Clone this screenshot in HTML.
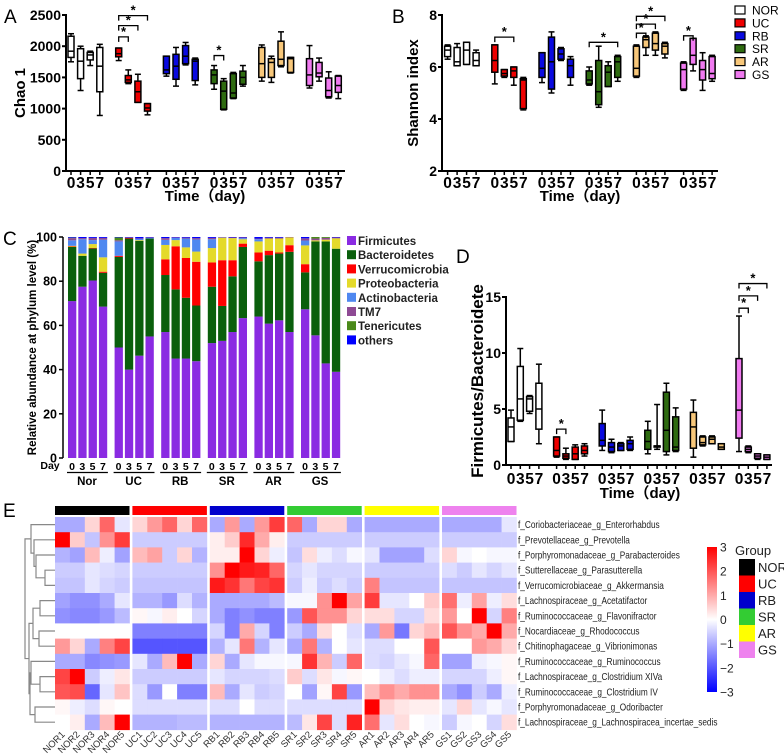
<!DOCTYPE html>
<html><head><meta charset="utf-8">
<style>
html,body{margin:0;padding:0;background:#fff;}
svg{display:block;font-family:"Liberation Sans","Noto Sans CJK SC",sans-serif;}
.b{font-weight:bold;}
</style></head>
<body>
<svg id="fig" width="784" height="755" viewBox="0 0 784 755" xmlns="http://www.w3.org/2000/svg">
<text x="4" y="23" font-size="19">A</text>
<text x="392" y="23" font-size="19">B</text>
<text x="3" y="245" font-size="19">C</text>
<text x="456" y="263" font-size="19">D</text>
<text x="3" y="517" font-size="19">E</text>
<g id="gA"></g>
<g id="gB"></g>
<g id="gC"></g>
<g id="gD"></g>
<g id="gE"></g>
</svg>
<script>
// ---------- shared data ----------
const groups = ["NOR","UC","RB","SR","AR","GS"];
const days = ["0","3","5","7"];
const groupColors = ["#ffffff","#ee0000","#0a0ae0","#2e6b10","#f7c77a","#f07af0"];

// Panel A: Chao1 [lo, q1, median, q3, hi] per group/day
const chaoTicks = [0,500,1000,1500,2000,2500];
const chaoStats = [
 [[1750,1820,1920,2160,2200],[1290,1480,1760,1960,2000],[1690,1780,1860,1900,1920],[890,1270,1680,1980,2030]],
 [[1770,1830,1880,1970,1970],[1400,1420,1460,1530,1620],[1100,1100,1270,1440,1550],[900,960,1010,1080,1080]],
 [[1520,1560,1620,1840,1840],[1360,1470,1680,1870,1980],[1700,1720,1840,2010,2060],[1380,1450,1760,1790,1810]],
 [[1310,1400,1540,1620,1690],[980,990,1280,1440,1480],[1160,1170,1250,1560,1580],[1360,1390,1500,1600,1690]],
 [[1440,1500,1720,1980,2020],[1420,1500,1740,1800,1840],[1670,1690,1790,2080,2230],[1570,1580,1800,1820,1820]],
 [[1330,1370,1540,1800,2010],[1440,1510,1570,1740,1810],[1170,1190,1290,1490,1590],[1160,1260,1370,1520,1530]]
];
const chaoSig = [[1,0,1,2150],[1,0,2,2330],[1,0,3,2490],[3,0,1,1850]];

// Panel B: Shannon
const shanTicks = [2,4,6,8];
const shanStats = [
 [[6.3,6.4,6.65,6.8,6.85],[6.05,6.05,6.2,6.75,6.9],[6.1,6.1,6.65,6.95,6.95],[6.05,6.05,6.25,6.55,6.65]],
 [[5.35,5.8,6.25,6.85,6.85],[5.6,5.65,5.75,5.9,5.9],[5.3,5.6,5.85,6.0,6.0],[4.35,4.4,5.5,5.55,5.6]],
 [[5.4,5.6,5.95,6.55,6.55],[5.0,5.15,6.2,7.15,7.35],[6.25,6.3,6.5,6.7,6.75],[5.3,5.6,6.05,6.3,6.4]],
 [[5.3,5.35,5.5,5.85,6.0],[4.45,4.55,5.05,6.25,6.8],[5.25,5.25,5.8,6.05,6.2],[5.45,5.6,6.2,6.4,6.45]],
 [[5.6,5.65,5.95,6.8,6.85],[6.45,6.75,7.05,7.15,7.2],[6.45,6.65,6.9,7.3,7.35],[6.35,6.5,6.8,6.9,6.95]],
 [[5.1,5.15,5.9,6.15,6.2],[5.85,6.1,6.45,7.1,7.1],[5.1,5.5,5.9,6.25,6.55],[5.45,5.55,5.75,6.4,6.45]]
];
const shanSig = [[1,0,2,7.15],[3,0,3,6.95],[4,0,1,7.3],[4,0,2,7.65],[4,0,3,7.95],[5,0,1,7.2]];

// Panel C: phylum relative abundance
const phyla = ["Firmicutes","Bacteroidetes","Verrucomicrobia","Proteobacteria","Actinobacteria","TM7","Tenericutes","others"];
const phylaColors = ["#8a2be2","#0a5f0c","#ff0000","#e4da2a","#4f88f0","#8e4a94","#4a8a1a","#0000ff"];
const barLabels = ["Nor","UC","RB","SR","AR","GS"];
const cTicks = [0,20,40,60,80,100];
const abund = [
 [71,24.5,0.2,0.3,2.5,1,0.2,0.3],[77.5,14,0,1,6.5,0.5,0,0.5],[80.3,14.5,0.2,1.8,1.8,1,0,0.4],[68.5,15.3,0.5,6.5,8,0.8,0,0.4],
 [50,41,0.5,0,6.5,0.5,1.3,0.2],[40,59.3,0.3,0,0,0.2,0,0.2],[46.3,52,0,0.3,0.5,0.3,0,0.6],[55,44.3,0,0,0.3,0.2,0,0.2],
 [57,25.8,7.1,6.5,2.3,0.8,0,0.5],[45,31.3,19.5,2.8,1,0.2,0,0.2],[45,27.5,18,4.8,4,0.4,0,0.3],[43.8,25.2,19.8,4.6,5.5,0.6,0,0.5],
 [52,25.5,11,6.5,4,0.6,0,0.4],[53,15.8,20.7,10.2,0,0.2,0,0.1],[57,25.2,7.3,10,0,0.3,0,0.2],[63.3,32.2,1.5,2,0.5,0.3,0,0.2],
 [64,25,4,5,1,0.3,0,0.7],[60.8,31,2,5.5,0,0.4,0,0.3],[62.3,30.2,0.5,6.3,0,0.4,0,0.3],[57,36.3,3,3.5,0,0.2,0,0],
 [67.3,16.7,3.7,8.5,2.2,1,0,0.6],[55.5,42.5,0,0.5,0,0.8,0.7,0],[42.8,55.2,0,0.8,0,0.8,0.4,0],[39,55.7,0,4.7,0,0.4,0,0.2]
];

// Panel D: Firmicutes/Bacteroidetes
const fbTicks = [0,5,10,15];
const fbStats = [
 [[2.1,2.1,3.4,4.2,4.9],[3.9,4.0,5.9,8.8,10.4],[4.6,4.8,5.9,6.1,6.2],[1.9,3.2,5.0,7.3,9.0]],
 [[0.7,0.8,1.3,2.5,2.5],[0.5,0.6,0.8,1.0,1.5],[0.5,0.5,1.0,1.6,1.8],[0.8,1.0,1.3,1.7,1.9]],
 [[1.3,1.7,2.2,3.7,4.9],[1.1,1.2,1.6,2.0,2.3],[1.3,1.3,1.7,1.9,2.0],[1.3,1.4,1.9,2.2,2.5]],
 [[1.0,1.4,2.1,3.1,3.9],[1.4,1.6,1.7,1.7,5.4],[0.9,1.2,3.1,6.5,7.3],[1.2,1.3,1.6,4.3,5.1]],
 [[0.7,1.5,3.4,4.7,5.8],[1.7,1.8,2.0,2.5,2.6],[1.9,1.9,2.3,2.5,2.6],[1.4,1.4,1.6,1.9,1.9]],
 [[1.2,2.4,4.9,9.5,13.3],[1.1,1.2,1.4,1.6,1.7],[0.5,0.6,0.8,1.0,1.0],[0.5,0.5,0.7,0.9,0.9]]
];
const fbSig = [[1,0,1,3.2],[5,0,1,14.0],[5,0,2,15.1],[5,0,3,16.2]];

// Panel E: heatmap z-scores
const taxa = ["f_Coriobacteriaceae_g_Enterorhabdus","f_Prevotellaceae_g_Prevotella","f_Porphyromonadaceae_g_Parabacteroides","f_Sutterellaceae_g_Parasutterella","f_Verrucomicrobiaceae_g_Akkermansia","f_Lachnospiraceae_g_Acetatifactor","f_Ruminococcaceae_g_Flavonifractor","f_Nocardiaceae_g_Rhodococcus","f_Chitinophagaceae_g_Vibrionimonas","f_Ruminococcaceae_g_Ruminococcus","f_Lachnospiraceae_g_Clostridium XIVa","f_Ruminococcaceae_g_Clostridium IV","f_Porphyromonadaceae_g_Odoribacter","f_Lachnospiraceae_g_Lachnospiracea_incertae_sedis"];
const samples = ["NOR1","NOR2","NOR3","NOR4","NOR5","UC1","UC2","UC3","UC4","UC5","RB1","RB2","RB3","RB4","RB5","SR1","SR2","SR3","SR4","SR5","AR1","AR2","AR3","AR4","AR5","GS1","GS2","GS3","GS4","GS5"];
const heatGroupColors = ["#000000","#ff0000","#0000cc","#33cc33","#ffff00","#ee82ee"];
const cbTicks = [3,2,1,0,-1,-2,-3];
const zvals = [
 [-1,-1,0.5,1.8,-0.3, 0.5,1.2,1.8,0.5,1.8, -1,1.2,-1,1.2,2.3, 1.8,-1,0.5,0.5,-1, -1,-1,-1,-1,-1, -1,-1,-1,-1,-0.3],
 [3,0.6,-0.7,1.3,2.3, -0.6,-0.6,-0.6,-0.6,-0.6, 0.2,0.6,2.5,1,0.2, -0.6,-0.6,-0.6,-0.6,-0.6, -0.6,-0.6,-0.6,-0.6,-0.6, -0.6,-0.6,-0.6,-0.6,-0.6],
 [-0.9,-1.1,0.8,-0.2,-1.1, 0.8,1.1,-0.6,0.5,-0.9, 0.2,0.2,3,0.5,-0.2, -0.7,0.4,-0.2,-0.4,-0.1, -0.3,-1.1,-1.1,-1.1,-0.4, 0.5,-0.1,0,-0.1,-0.1],
 [-0.6,-0.6,-0.3,-0.4,-0.5, -0.6,-0.6,-0.6,-0.6,-0.6, 1.3,3,2.7,2.6,1.8, -0.5,-0.3,-0.5,-0.5,-0.5, -0.6,-0.6,-0.6,-0.6,-0.6, -0.4,-0.6,-0.3,-0.5,-0.3],
 [-0.7,-0.7,-0.3,-0.5,-0.6, -0.7,-0.7,-0.7,-0.7,-0.7, 2.7,2.4,1.6,2.2,2.4, -0.6,-0.2,-0.6,-0.4,-0.6, 1.5,-0.7,-0.7,-0.7,-0.7, -0.7,-0.7,-0.7,-0.7,-0.7],
 [-1.1,-1.3,-1.3,-1,-0.3, -0.9,-0.9,-1.2,-0.4,-0.9, -1,-1,-1,-1,-0.8, -0.1,-0.1,1.3,3,1.1, 2.3,-0.3,-0.3,0,0.6, 1.7,-0.2,1.1,-0.2,0.4],
 [-1.3,-1.4,-1.4,-1.2,-0.8, 0.1,-0.1,0.2,0,-0.5, -1,-1.5,-1.3,-1.5,-1.5, -1.2,2,1.3,1.3,0.5, 0.4,0.4,-0.5,-0.5,0.4, 1.2,0,3,-0.5,1.5],
 [0,0,0,0,0, -1.5,-1.5,-1.5,-1.5,-1.5, -0.5,-1.5,1,-0.5,-1.5, -0.6,-1,0.4,0,-0.4, -1,1.2,-1.6,0.5,0.8, 2,1.3,1,3,1],
 [1.2,0.5,-1,1.5,2.2, -2,-2,-2,-2,-2, -0.9,-0.3,1.6,-0.9,-0.3, -1,1.6,-0.9,0,-0.3, -0.4,-0.4,0,0,2, 0,0,1.2,1,0.5],
 [-1,-1,-1.4,-1.3,-1.2, -0.3,-1,0.8,3,-1, 0.5,-1,-0.3,-0.1,-0.1, -0.1,2.4,0.9,-0.6,1.8, -0.4,-0.5,-0.3,-0.1,1.8, -1.1,-1.1,-0.2,-0.1,0.1],
 [2.2,3,-0.6,-0.2,0.3, -0.6,-0.6,-0.6,-0.6,-0.6, -0.3,-0.5,-0.5,-0.5,-0.4, 0.6,-0.4,0.3,-0.1,0.1, 0,-0.2,-0.4,-0.2,-0.2, -0.5,-0.5,-0.5,-0.2,0.1],
 [2,2.1,-1.8,-0.3,0.7, -0.4,-1.2,0,-1.5,-1.5, 0.8,-1,-0.3,-0.6,-0.5, 0,-1.1,0.1,2.2,-1.2, 0.8,1.3,1,1.3,1.3, -1,-1.3,-0.6,-1,-0.2],
 [0.1,-0.2,-0.4,0.1,0, -0.4,-0.4,-0.4,-0.4,-0.4, -0.4,-0.4,0,-0.4,-0.4, -0.4,-0.4,-0.4,-0.4,-0.4, 3,0.5,0.3,0.2,0.2, -0.3,0.5,-0.3,-0.1,-0.3],
 [0,0.2,-1,0.8,3, -0.9,-0.9,-0.9,-0.8,-0.8, -0.9,-0.9,-0.9,-0.9,-0.9, -0.8,0.3,2.2,-0.4,2.6, 1.7,-0.3,0.4,0,-0.1, -0.6,-0.1,0,-0.5,0.4]
];

// ---------- helpers ----------
const NS = "http://www.w3.org/2000/svg";
function mk(parent, tag, attrs, text){
  const e = document.createElementNS(NS, tag);
  for (const k in attrs) e.setAttribute(k, attrs[k]);
  if (text !== undefined) e.textContent = text;
  parent.appendChild(e);
  return e;
}
function line(p,x1,y1,x2,y2,w,c){ return mk(p,"line",{x1:x1,y1:y1,x2:x2,y2:y2,stroke:c||"#000","stroke-width":w||1.5}); }

function boxPanel(g, cfg){
  const {ax, y0, y1, vmin, vmax, ticks, stats, sig, xOf, xEnd, title, titleX, bw, cap} = cfg;
  const ys = v => y0 - (v - vmin)/(vmax - vmin)*(y0 - y1);
  const yAxis = line(g, ax, y1-1, ax, y0+1, 2);
  
  
  const xAxis = line(g, ax, y0, xEnd, y0, 2);
  
  
  ticks.forEach(t=>{
    line(g, ax-4, ys(t), ax, ys(t), 2);
    const tl = mk(g,"text",{x:ax-5,y:ys(t)+5,"font-size":14,"font-weight":"bold","text-anchor":"end"}, String(t));
    
    
  });
  const yt = mk(g,"text",{x:0,y:0,"font-size":cfg.titleSize||15,"font-weight":"bold","text-anchor":"middle",transform:`translate(${titleX},${(y0+y1)/2}) rotate(-90)`}, title);
  
  
  stats.forEach((grp,gi)=>{
    grp.forEach((s,di)=>{
      const cx = xOf(gi,di);
      line(g, cx, y0, cx, y0+4, 1.5);
      const dl = mk(g,"text",{x:cx,y:y0+cfg.digitDy,"font-size":15.5,"font-weight":"bold","text-anchor":"middle"}, days[di]);
      
      
      const bg = mk(g,"g",{});
      
      
      line(bg, cx, ys(s[0]), cx, ys(s[1]), 1.5);
      line(bg, cx, ys(s[3]), cx, ys(s[4]), 1.5);
      line(bg, cx-cap, ys(s[0]), cx+cap, ys(s[0]), 1.5);
      line(bg, cx-cap, ys(s[4]), cx+cap, ys(s[4]), 1.5);
      mk(bg,"rect",{x:cx-bw/2,y:ys(s[3]),width:bw,height:Math.max(1,ys(s[1])-ys(s[3])),fill:groupColors[gi],stroke:"#000","stroke-width":1.5});
      line(bg, cx-bw/2, ys(s[2]), cx+bw/2, ys(s[2]), 1.5);
    });
  });
  sig.forEach(s=>{
    const xa = xOf(s[0],s[1]), xb = xOf(s[0],s[2]), y = ys(s[3]);
    const sg = mk(g,"g",{});
    
    
    mk(sg,"path",{d:`M${xa},${y+5}V${y}H${xb}V${y+5}`,fill:"none",stroke:"#000","stroke-width":1.3});
    mk(sg,"text",{x:(xa+xb)/2,y:y-1,"font-size":13,"font-weight":"bold","text-anchor":"middle"},"*");
  });
  const xt = mk(g,"text",{x:cfg.timeX,y:y0+cfg.timeDy,"font-size":15,"font-weight":"bold","text-anchor":"middle"},"Time（day)");
  
  
}

boxPanel(document.getElementById("gA"),{
  ax:66, y0:171, y1:15, vmin:0, vmax:2500, ticks:chaoTicks, stats:chaoStats, sig:chaoSig,
  xOf:(g,d)=>71+g*47.7+d*9.6, xEnd:345, title:"Chao 1", titleX:25, bw:6, cap:3,
  digitDy:17, timeX:205, timeDy:30
});
boxPanel(document.getElementById("gB"),{
  ax:442, y0:171, y1:15, vmin:2, vmax:8, ticks:shanTicks, stats:shanStats, sig:shanSig,
  xOf:(g,d)=>447.6+g*47.2+d*9.5, xEnd:718, title:"Shannon index", titleX:418, bw:6, cap:3,
  digitDy:17, timeX:580, timeDy:30
});
(function(){
  const g = document.getElementById("gB");
  groups.forEach((n,i)=>{
    const y = 6 + i*12.9;
    const lg = mk(g,"g",{});
    
    
    mk(lg,"rect",{x:735,y:y,width:10,height:8,fill:groupColors[i],stroke:"#000","stroke-width":1.2});
    mk(lg,"text",{x:752,y:y+8.5,"font-size":12},n);
  });
})();
boxPanel(document.getElementById("gD"),{
  ax:506, y0:465, y1:297, vmin:0, vmax:15, ticks:fbTicks, stats:fbStats, sig:fbSig,
  xOf:(g,d)=>511+g*45.6+d*9.3, xEnd:772, title:"Firmicutes/Bacteroidete", titleX:483, titleSize:17, bw:6, cap:3,
  digitDy:19, timeX:640, timeDy:33
});

// ---------- Panel C ----------
(function(){
  const g = document.getElementById("gC");
  const y0=458, y1=237, ax=63;
  const ys = v => y0 - v/100*(y0-y1);
  const xb = (gi,di)=>68+gi*46.6+di*10.3;
  const ya = line(g, ax, y1, ax, y0, 1.5);
  
  
  cTicks.forEach(t=>{
    line(g, ax-4, ys(t), ax, ys(t), 1.5);
    const tl = mk(g,"text",{x:ax-6,y:ys(t)+4.5,"font-size":12.5,"font-weight":"bold","text-anchor":"end"},String(t));
    
    
  });
  const yt = mk(g,"text",{x:0,y:0,"font-size":11.5,"font-weight":"bold","text-anchor":"middle",transform:`translate(36,${(y0+y1)/2}) rotate(-90)`},"Relative abundance at phylum level (%)");
  
  
  abund.forEach((vals,i)=>{
    const gi = Math.floor(i/4), di = i%4;
    const x = xb(gi,di);
    const bar = mk(g,"g",{});
    
    
    let cum = 0;
    vals.forEach((v,k)=>{
      if (v<=0) return;
      mk(bar,"rect",{x:x,y:ys(Math.min(100,cum+v)),width:8.3,height:ys(cum)-ys(Math.min(100,cum+v)),fill:phylaColors[k]});
      cum += v;
    });
  });
  const dayT = mk(g,"text",{x:50,y:469,"font-size":10.5,"font-weight":"bold","text-anchor":"middle"},"Day");
  
  
  barLabels.forEach((n,gi)=>{
    days.forEach((d,di)=>{
      const t = mk(g,"text",{x:xb(gi,di)+4,y:470,"font-size":10.5,"font-weight":"bold","text-anchor":"middle"},d);
      
      
    });
    line(g, xb(gi,0)-1, 472.5, xb(gi,3)+9, 472.5, 1.3);
    const gl = mk(g,"text",{x:xb(gi,0)+19,y:485,"font-size":11.5,"font-weight":"bold","text-anchor":"middle"},n);
    
    
  });
  phyla.forEach((n,k)=>{
    const y = 236 + k*14.2;
    const lg = mk(g,"g",{});
    
    
    mk(lg,"rect",{x:347,y:y,width:9,height:9,fill:phylaColors[k]});
    mk(lg,"text",{x:358,y:y+9,"font-size":11.5,"font-weight":"bold","fill":"#222"},n);
  });
})();

// ---------- Panel E ----------
(function(){
  const g = document.getElementById("gE");
  const top=517, rh=15.2, cw=14.9, gx0=55, gstep=77.4;
  const colX = c => gx0 + Math.floor(c/5)*gstep + (c%5)*cw;
  const rowY = r => top + r*rh;
  function col(v){
    const t = Math.min(1,Math.abs(v)/3);
    const w = Math.round(255*(1-t));
    return v>=0 ? `rgb(255,${w},${w})` : `rgb(${w},${w},255)`;
  }
  heatGroupColors.forEach((c,i)=>{
    const r = mk(g,"rect",{x:gx0+i*gstep,y:506,width:cw*5,height:9,fill:c});
    
    
  });
  zvals.forEach((row,r)=>{
    row.forEach((v,c)=>{
      const cell = mk(g,"rect",{x:colX(c),y:rowY(r),width:cw+0.3,height:rh+0.3,fill:col(v)});
      
      
    });
  });
  taxa.forEach((t,r)=>{
    const tl = mk(g,"text",{x:0,y:0,"font-size":10.2,"fill":"#222",transform:`translate(518,${rowY(r)+rh/2+3.5}) scale(0.81,1)`},t);
    
    
  });
  samples.forEach((s,c)=>{
    const x = colX(c)+cw/2+3, y = 735;
    const tl = mk(g,"text",{x:x,y:y,"font-size":9.5,"fill":"#333","text-anchor":"end",transform:`rotate(-45 ${x} ${y})`},s);
    
    
  });
  const rc = r => rowY(r)+rh/2;
  const dg = mk(g,"g",{fill:"none",stroke:"#888","stroke-width":1.2});
  
  
  const m45 = (rc(3)+rc(4))/2, m345=(rc(2)+m45)/2, m2345=(rc(1)+m345)/2, m1=(rc(0)+m2345)/2;
  const m67=(rc(5)+rc(6))/2, m89=(rc(7)+rc(8))/2, m6789=(m67+m89)/2;
  const m1112=(rc(10)+rc(11))/2, m10=(rc(9)+m1112)/2, m1314=(rc(12)+rc(13))/2, mlow=(m10+m1314)/2;
  const mbot=(m6789+mlow)/2;
  const paths = [
    `M55,${rc(3)}H45V${rc(4)}H55`,
    `M55,${rc(2)}H36V${m45}H45`,
    `M55,${rc(1)}H34V${m345}H36`,
    `M55,${rc(0)}H31V${m2345}H34`,
    `M55,${rc(5)}H40V${rc(6)}H55`,
    `M55,${rc(7)}H39V${rc(8)}H55`,
    `M40,${m67}H33V${m89}H39`,
    `M55,${rc(10)}H40V${rc(11)}H55`,
    `M55,${rc(9)}H31V${m1112}H40`,
    `M55,${rc(12)}H35V${rc(13)}H55`,
    `M31,${m10}H30V${m1314}H35`,
    `M33,${m6789}H29V${mlow}H30`,
    `M31,${m1}H25V${mbot}H29`
  ];
  paths.forEach(d=>mk(dg,"path",{d:d}));
  const defs = mk(g,"defs",{});
  const lg = mk(defs,"linearGradient",{id:"cbg",x1:0,y1:0,x2:0,y2:1});
  mk(lg,"stop",{offset:"0",  "stop-color":"#ff0000"});
  mk(lg,"stop",{offset:"0.5","stop-color":"#ffffff"});
  mk(lg,"stop",{offset:"1",  "stop-color":"#0000ff"});
  const cb = mk(g,"rect",{x:707,y:547,width:10,height:145,fill:"url(#cbg)"});
  
  
  cbTicks.forEach(t=>{
    const y = 547 + (3-t)/6*145;
    const tl = mk(g,"text",{x:720,y:y+4.5,"font-size":12,"fill":"#222"}, t<0 ? "\u2212"+Math.abs(t) : String(t));
    
    
  });
  const gt = mk(g,"text",{x:735,y:555,"font-size":13,"fill":"#222"},"Group");
  
  
  groups.forEach((n,i)=>{
    const y = 559 + i*16.5;
    const le = mk(g,"g",{});
    
    
    mk(le,"rect",{x:739,y:y,width:16,height:16.5,fill:heatGroupColors[i]});
    mk(le,"text",{x:758,y:y+13,"font-size":13,"fill":"#222"},n);
  });
})();
</script>
</body></html>
